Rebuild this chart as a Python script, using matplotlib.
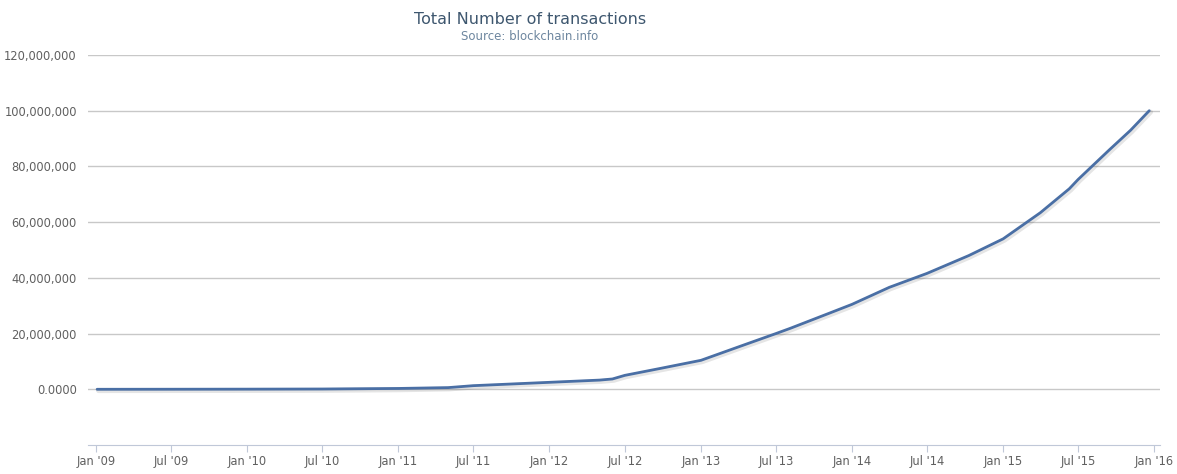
import matplotlib
matplotlib.use("Agg")
from matplotlib import pyplot as plt
import matplotlib.dates as mdates
import matplotlib.patheffects as pe
from matplotlib.ticker import FuncFormatter
import pandas as pd

# values (cumulative transactions, millions)
dates = ["2009-01-03", "2009-07-01", "2010-01-01", "2010-07-01", "2011-01-01",
         "2011-05-01", "2011-07-01", "2012-01-01", "2012-05-01", "2012-06-01",
         "2012-07-01", "2012-09-25", "2013-01-01", "2013-04-05", "2013-07-01",
         "2013-08-05", "2013-11-05", "2014-01-01", "2014-04-01", "2014-07-01",
         "2014-10-10", "2015-01-01", "2015-04-01", "2015-06-10", "2015-07-01",
         "2015-09-15", "2015-11-05", "2015-12-20"]
total_m = [0.0, 0.02, 0.05, 0.1, 0.3,
           0.6, 1.3, 2.5, 3.3, 3.7,
           5.0, 7.5, 10.4, 15.4, 20.0,
           21.9, 27.2, 30.5, 36.6, 41.6,
           48.0, 54.0, 63.4, 72.0, 75.3,
           86.0, 93.0, 100.0]

title = "Total Number of transactions"
subtitle = "Source: blockchain.info"

x = pd.to_datetime(dates)
y = [v * 1e6 for v in total_m]

fig = plt.figure(figsize=(11.77, 4.74), dpi=100)
ax = fig.add_axes([88 / 1177, 1 - 445 / 474, (1160 - 88) / 1177, (445 - 55) / 474])

ax.plot(x, y, color="#4A6FA5", lw=2.0, solid_capstyle="round", solid_joinstyle="round",
        path_effects=[pe.SimpleLineShadow(offset=(1, -1), shadow_color="#000000", alpha=0.1, linewidth=3.5),
                      pe.Normal()])

ax.set_ylim(-20e6, 120e6)
ax.set_yticks([0, 20e6, 40e6, 60e6, 80e6, 100e6, 120e6])
ax.yaxis.set_major_formatter(FuncFormatter(lambda v, p: "0.0000" if v == 0 else "{:,.0f}".format(v)))
ax.set_xlim(pd.Timestamp("2008-12-12"), pd.Timestamp("2016-01-15"))
ax.xaxis.set_major_locator(mdates.MonthLocator(bymonth=[1, 7]))
ax.xaxis.set_major_formatter(mdates.DateFormatter("%b '%y"))

ax.grid(axis="y", color="#C8C8C8", lw=1)
ax.set_axisbelow(True)
for s in ["top", "right", "left"]:
    ax.spines[s].set_visible(False)
ax.spines["bottom"].set_color("#C0C8D8")
ax.tick_params(axis="y", length=0, pad=8, labelsize=8.3, labelcolor="#606060")
ax.tick_params(axis="x", length=5, color="#C0C8D8", pad=2, labelsize=8.3, labelcolor="#606060")

fig.text(530 / 1177, 1 - 19 / 474, title, ha="center", va="center", fontsize=11.5, color="#3E576F")
fig.text(530 / 1177, 1 - 36 / 474, subtitle, ha="center", va="center", fontsize=8.5, color="#6D869F")

fig.savefig("out.png", dpi=100)
